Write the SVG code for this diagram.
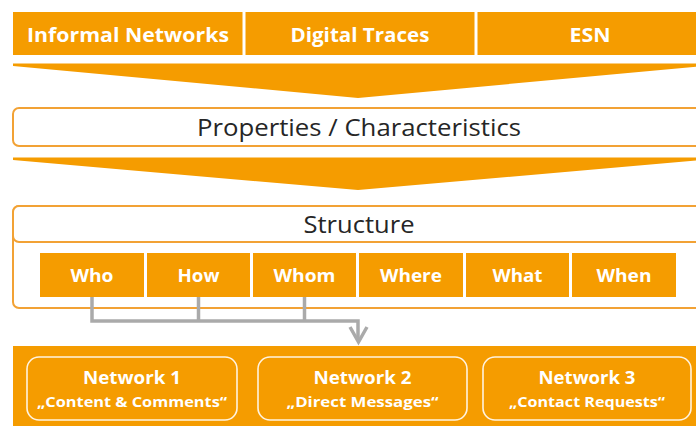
<svg xmlns="http://www.w3.org/2000/svg" width="696" height="426" viewBox="0 0 696 426">
<defs>
<style>
.or{fill:#F59C00}
.box{fill:#fff;stroke:#F2A235;stroke-width:2}
.hd{font-family:"Open Sans","Liberation Sans",sans-serif;font-weight:bold;fill:#fff;text-anchor:middle}
.tt{font-family:"Open Sans","Liberation Sans",sans-serif;fill:#262626;text-anchor:middle;font-size:23px}
.cell{font-family:"Open Sans","Liberation Sans",sans-serif;font-weight:bold;fill:#fff;text-anchor:middle;font-size:18px}
.nb{fill:#F59C00;stroke:#FFF3DF;stroke-width:1.6}
.conn{fill:none;stroke:#AAAAAA;stroke-width:3.5}
</style>
</defs>
<rect width="696" height="426" fill="#fff"/>

<g id="top-bar">
<rect class="or" x="13" y="12" width="229.5" height="43"/>
<rect class="or" x="245.5" y="12" width="229" height="43"/>
<rect class="or" x="477.5" y="12" width="226" height="43"/>
<text class="hd" x="128" y="42" font-size="20" textLength="202" lengthAdjust="spacingAndGlyphs">Informal Networks</text>
<text class="hd" x="360" y="42" font-size="20" textLength="139" lengthAdjust="spacingAndGlyphs">Digital Traces</text>
<text class="hd" x="590" y="42" font-size="20" textLength="41" lengthAdjust="spacingAndGlyphs">ESN</text>
</g>

<g id="funnel-1">
<polygon class="or" points="13,63.5 703,63.5 703,66 358,98 13,66"/>
</g>

<g id="properties">
<rect class="box" x="13" y="108" width="700" height="38" rx="6"/>
<text class="tt" x="359" y="136" textLength="324" lengthAdjust="spacingAndGlyphs">Properties / Characteristics</text>
</g>

<g id="funnel-2">
<polygon class="or" points="13,157.5 703,157.5 703,160 358,190 13,160"/>
</g>

<g id="structure">
<rect class="box" x="13" y="206" width="700" height="102" rx="6"/>
<rect class="box" x="13" y="206" width="700" height="36" rx="6"/>
<text class="tt" x="359" y="233" textLength="111" lengthAdjust="spacingAndGlyphs">Structure</text>
</g>

<g id="cell-who"><rect class="or" x="40" y="253" width="104" height="44"/><text class="cell" x="92" y="282" textLength="43" lengthAdjust="spacingAndGlyphs">Who</text></g>
<g id="cell-how"><rect class="or" x="147" y="253" width="103" height="44"/><text class="cell" x="198.5" y="282" textLength="42" lengthAdjust="spacingAndGlyphs">How</text></g>
<g id="cell-whom"><rect class="or" x="253" y="253" width="103" height="44"/><text class="cell" x="304.5" y="282" textLength="62" lengthAdjust="spacingAndGlyphs">Whom</text></g>
<g id="cell-where"><rect class="or" x="359" y="253" width="104" height="44"/><text class="cell" x="411" y="282" textLength="62" lengthAdjust="spacingAndGlyphs">Where</text></g>
<g id="cell-what"><rect class="or" x="466" y="253" width="103" height="44"/><text class="cell" x="517.5" y="282" textLength="50" lengthAdjust="spacingAndGlyphs">What</text></g>
<g id="cell-when"><rect class="or" x="572" y="253" width="104" height="44"/><text class="cell" x="624" y="282" textLength="55" lengthAdjust="spacingAndGlyphs">When</text></g>

<g id="connectors">
<path class="conn" d="M92,297 V321 H358 V340"/>
<path class="conn" d="M198.5,297 V321"/>
<path class="conn" d="M304.5,297 V321"/>
<polyline class="conn" stroke-width="4.5" points="350,327 358.5,342 367,327"/>
</g>

<g id="networks-band">
<rect class="or" x="13" y="346" width="700" height="90"/>
</g>

<g id="network-1">
<rect class="nb" x="27" y="357" width="210" height="63" rx="12"/>
<text class="hd" x="132" y="384" font-size="18" textLength="98" lengthAdjust="spacingAndGlyphs">Network 1</text>
<text class="hd" x="132" y="407" font-size="15" textLength="190" lengthAdjust="spacingAndGlyphs">„Content &amp; Comments“</text>
</g>
<g id="network-2">
<rect class="nb" x="258" y="357" width="209" height="63" rx="12"/>
<text class="hd" x="362.5" y="384" font-size="18" textLength="98" lengthAdjust="spacingAndGlyphs">Network 2</text>
<text class="hd" x="362.5" y="407" font-size="15" textLength="152" lengthAdjust="spacingAndGlyphs">„Direct Messages“</text>
</g>
<g id="network-3">
<rect class="nb" x="483" y="357" width="208" height="63" rx="12"/>
<text class="hd" x="587" y="384" font-size="18" textLength="97" lengthAdjust="spacingAndGlyphs">Network 3</text>
<text class="hd" x="587" y="407" font-size="15" textLength="156" lengthAdjust="spacingAndGlyphs">„Contact Requests“</text>
</g>
</svg>
